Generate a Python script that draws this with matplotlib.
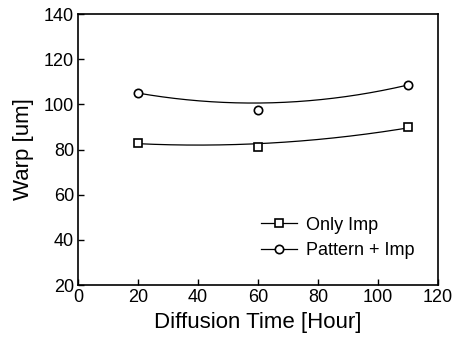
import numpy as np
import matplotlib.pyplot as plt

plt.rcParams['font.family'] = ['Liberation Sans', 'DejaVu Sans']

# measured points
hours = [20, 60, 110]
only_imp = [83.0, 81.2, 89.8]
pattern_imp = [105.0, 97.3, 108.7]

# fitted trend curves read at the same hours
only_imp_fit = [82.6, 82.6, 89.6]
pattern_imp_fit = [105.0, 100.6, 108.6]

fig = plt.figure(figsize=(4.54, 3.43), dpi=100)
ax = fig.add_axes([0.172, 0.169, 0.793, 0.790])

xs = np.linspace(20, 110, 200)
for y, fit, mk, lab in [(only_imp, only_imp_fit, 's', 'Only Imp'),
                        (pattern_imp, pattern_imp_fit, 'o', 'Pattern + Imp')]:
    c = np.polyfit(hours, fit, 2)
    ax.plot(xs, np.polyval(c, xs), color='black', lw=0.9)
    ax.plot(hours, y, linestyle='none', marker=mk, ms=6, mfc='white',
            mec='black', mew=1.2)
    ax.plot([], [], color='black', lw=0.9, marker=mk, ms=6, mfc='white',
            mec='black', mew=1.2, label=lab)

ax.set_xlim(0, 120)
ax.set_ylim(20, 140)
ax.set_xticks(range(0, 121, 20))
ax.set_yticks(range(20, 141, 20))
ax.tick_params(direction='in', length=4, width=1, labelsize=13, pad=3)
for s in ax.spines.values():
    s.set_linewidth(1.2)

ax.set_xlabel('Diffusion Time [Hour]', fontsize=16, labelpad=4)
ax.set_ylabel('Warp [um]', fontsize=16, labelpad=7)

ax.legend(loc='lower right', bbox_to_anchor=(0.97, 0.05), frameon=False,
          fontsize=13, handlelength=2.0, handletextpad=0.5, labelspacing=0.45,
          borderpad=0.2)

fig.savefig('out.png', dpi=100)
